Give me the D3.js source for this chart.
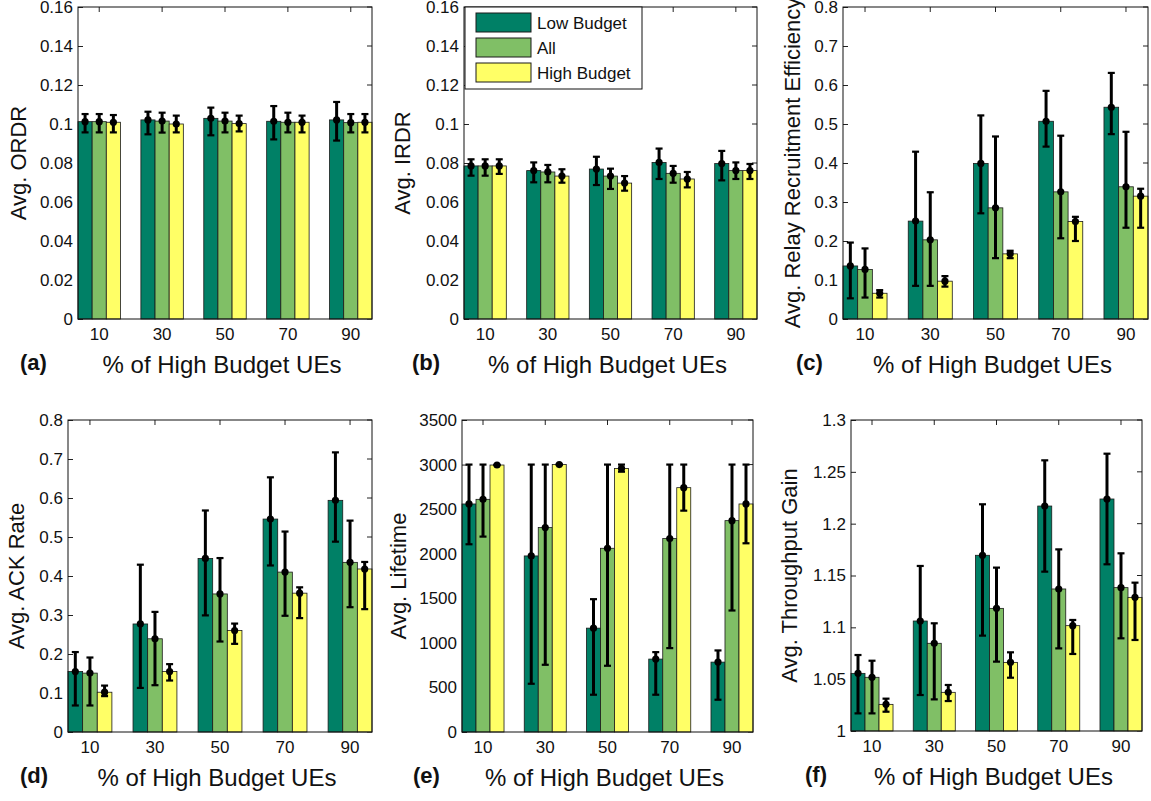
<!DOCTYPE html>
<html lang="en">
<head>
<meta charset="utf-8">
<title>Budget UEs bars</title>
<script src="https://cdn.jsdelivr.net/npm/d3@7"></script>
<style>
body { margin: 0; background: #fff; }
svg text { font-family: "Liberation Sans", Arial, Helvetica, sans-serif; fill: #111; }
.domain { stroke: none; }
</style>
</head>
<body>
<svg id="fig" width="1151" height="801"></svg>
<script>
// categories and series
var groups = ["10", "30", "50", "70", "90"];
var seriesNames = ["Low Budget", "All", "High Budget"];
var seriesColors = ["#008066", "#80bf66", "#ffff66"];

// (a) ORDR : [low, all, high]
var ordrMean = [[0.1012, 0.1021, 0.1029, 0.1014, 0.1021], [0.1012, 0.1015, 0.1015, 0.1009, 0.1007], [0.1009, 0.1000, 0.1002, 0.1009, 0.1009]];
var ordrLo = [[0.0957, 0.0947, 0.0942, 0.0921, 0.0915], [0.0957, 0.0956, 0.0957, 0.0957, 0.0957], [0.0957, 0.0957, 0.0962, 0.0957, 0.0957]];
var ordrHi = [[0.1051, 0.1063, 0.1084, 0.1092, 0.1113], [0.1051, 0.1058, 0.1058, 0.1058, 0.1051], [0.1046, 0.1043, 0.1043, 0.1043, 0.1051]];
var ordrTicks = [0, 0.02, 0.04, 0.06, 0.08, 0.1, 0.12, 0.14, 0.16];

// (b) IRDR
var irdrMean = [[0.0785, 0.0761, 0.0769, 0.0803, 0.0797], [0.0785, 0.0754, 0.0733, 0.0747, 0.0761], [0.0785, 0.0733, 0.0697, 0.0718, 0.0761]];
var irdrLo = [[0.0735, 0.0701, 0.0687, 0.0718, 0.0711], [0.0735, 0.0701, 0.0667, 0.0699, 0.0718], [0.0744, 0.0699, 0.0658, 0.0675, 0.0718]];
var irdrHi = [[0.0819, 0.0803, 0.0832, 0.0874, 0.0862], [0.0819, 0.0790, 0.0771, 0.0785, 0.0803], [0.0819, 0.0768, 0.0733, 0.0754, 0.0795]];
var irdrTicks = [0, 0.02, 0.04, 0.06, 0.08, 0.1, 0.12, 0.14, 0.16];

// (c) relay recruitment efficiency
var rreMean = [[0.136, 0.251, 0.399, 0.507, 0.543], [0.127, 0.203, 0.285, 0.326, 0.339], [0.066, 0.097, 0.167, 0.250, 0.315]];
var rreLo = [[0.053, 0.085, 0.271, 0.442, 0.474], [0.055, 0.085, 0.156, 0.207, 0.234], [0.055, 0.083, 0.156, 0.200, 0.234]];
var rreHi = [[0.196, 0.429, 0.522, 0.585, 0.631], [0.181, 0.325, 0.468, 0.470, 0.480], [0.074, 0.110, 0.175, 0.262, 0.334]];
var rreTicks = [0, 0.1, 0.2, 0.3, 0.4, 0.5, 0.6, 0.7, 0.8];

// (d) ACK rate
var ackMean = [[0.155, 0.277, 0.445, 0.546, 0.594], [0.151, 0.239, 0.354, 0.410, 0.435], [0.102, 0.155, 0.260, 0.356, 0.418]];
var ackLo = [[0.068, 0.113, 0.299, 0.427, 0.488], [0.068, 0.120, 0.232, 0.298, 0.320], [0.092, 0.132, 0.226, 0.292, 0.315]];
var ackHi = [[0.205, 0.429, 0.568, 0.653, 0.717], [0.191, 0.308, 0.446, 0.514, 0.542], [0.119, 0.174, 0.278, 0.371, 0.436]];
var ackTicks = [0, 0.1, 0.2, 0.3, 0.4, 0.5, 0.6, 0.7, 0.8];

// (e) lifetime
var lifeMean = [[2558, 1975, 1165, 818, 784], [2610, 2293, 2061, 2170, 2371], [2995, 3000, 2957, 2741, 2558]];
var lifeLo = [[2106, 541, 418, 418, 362], [2192, 754, 743, 941, 1363], [2995, 3000, 2920, 2483, 2117]];
var lifeHi = [[3000, 3000, 1490, 896, 915], [3000, 3000, 3000, 3000, 3000], [2995, 3000, 3000, 3000, 3000]];
var lifeTicks = [0, 500, 1000, 1500, 2000, 2500, 3000, 3500];

// (f) throughput gain
var tputMean = [[1.0556, 1.1061, 1.1695, 1.2170, 1.2238], [1.0518, 1.0846, 1.1183, 1.1370, 1.1383], [1.0257, 1.0373, 1.0662, 1.1016, 1.1289]];
var tputLo = [[1.0170, 1.0347, 1.0920, 1.1537, 1.1608], [1.0170, 1.0305, 1.0669, 1.0797, 1.0894], [1.0186, 1.0289, 1.0514, 1.0743, 1.0878]];
var tputHi = [[1.0733, 1.1592, 1.2187, 1.2611, 1.2675], [1.0678, 1.1039, 1.1576, 1.1752, 1.1714], [1.0312, 1.0444, 1.0759, 1.1071, 1.1431]];
var tputTicks = [1, 1.05, 1.1, 1.15, 1.2, 1.25, 1.3];

var xLabel = "% of High Budget UEs";

var panels = [
  { tag: "(a)", ylabel: "Avg. ORDR", mean: ordrMean, lo: ordrLo, hi: ordrHi, ticks: ordrTicks, box: [78, 7, 372, 319], ylabX: 26, tagX: 20 },
  { tag: "(b)", ylabel: "Avg. IRDR", mean: irdrMean, lo: irdrLo, hi: irdrHi, ticks: irdrTicks, box: [464, 7, 757, 319], ylabX: 410, tagX: 412, legend: true },
  { tag: "(c)", ylabel: "Avg. Relay Recruitment Efficiency", mean: rreMean, lo: rreLo, hi: rreHi, ticks: rreTicks, box: [843, 7, 1148, 319], ylabX: 800, tagX: 796 },
  { tag: "(d)", ylabel: "Avg. ACK Rate", mean: ackMean, lo: ackLo, hi: ackHi, ticks: ackTicks, box: [68, 420, 372, 732], ylabX: 24, tagX: 20 },
  { tag: "(e)", ylabel: "Avg. Lifetime", mean: lifeMean, lo: lifeLo, hi: lifeHi, ticks: lifeTicks, box: [462, 420, 753, 732], ylabX: 406, tagX: 413 },
  { tag: "(f)", ylabel: "Avg. Throughput Gain", mean: tputMean, lo: tputLo, hi: tputHi, ticks: tputTicks, box: [851, 420, 1142, 731], ylabX: 797, tagX: 805 }
];

var svg = d3.select("#fig");

panels.forEach(function(p) {
  var x0 = p.box[0], y0 = p.box[1], x1 = p.box[2], y1 = p.box[3];
  var yDom = [p.ticks[0], p.ticks[p.ticks.length - 1]];

  var x = d3.scaleBand().domain(groups).range([x0, x1]).paddingInner(0.325).paddingOuter(0);
  var xs = d3.scaleBand().domain(d3.range(seriesNames.length)).range([0, x.bandwidth()]);
  var y = d3.scaleLinear().domain(yDom).range([y1, y0]);

  var g = svg.append("g");

  // y axis, ticks pointing inward
  var ya = g.append("g").attr("transform", "translate(" + x0 + ",0)")
    .call(d3.axisLeft(y).tickValues(p.ticks).tickSize(-5).tickPadding(5).tickFormat(function(d) { return String(d); }));
  ya.selectAll("text").style("font-size", "17px");
  ya.selectAll("line").attr("stroke", "#222");

  // right ticks
  g.selectAll(".rt").data(p.ticks).enter().append("line")
    .attr("x1", x1).attr("x2", x1 - 5)
    .attr("y1", function(d) { return y(d); }).attr("y2", function(d) { return y(d); })
    .attr("stroke", "#222");
  // top ticks
  g.selectAll(".tt").data(groups).enter().append("line")
    .attr("x1", function(d) { return x(d) + x.bandwidth() / 2; })
    .attr("x2", function(d) { return x(d) + x.bandwidth() / 2; })
    .attr("y1", y0).attr("y2", y0 + 5)
    .attr("stroke", "#222");

  // x axis labels
  var xa = g.append("g").attr("transform", "translate(0," + y1 + ")")
    .call(d3.axisBottom(x).tickSize(0).tickPadding(9));
  xa.selectAll("text").style("font-size", "17px");

  // bars
  p.mean.forEach(function(vals, s) {
    g.selectAll(".bar" + s).data(vals).enter().append("rect")
      .attr("x", function(d, i) { return x(groups[i]) + xs(s); })
      .attr("width", xs.bandwidth())
      .attr("y", function(d) { return y(d); })
      .attr("height", function(d) { return y(yDom[0]) - y(d); })
      .attr("fill", seriesColors[s])
      .attr("stroke", "#1a1a1a")
      .attr("stroke-width", 0.8);
  });

  // box
  g.append("rect").attr("x", x0).attr("y", y0).attr("width", x1 - x0).attr("height", y1 - y0)
    .attr("fill", "none").attr("stroke", "#111").attr("stroke-width", 1);

  // error bars
  p.mean.forEach(function(vals, s) {
    var cx = function(i) { return x(groups[i]) + xs(s) + xs.bandwidth() / 2; };
    var eg = g.append("g");
    vals.forEach(function(m, i) {
      var lo = p.lo[s][i], hi = p.hi[s][i];
      eg.append("line").attr("x1", cx(i)).attr("x2", cx(i)).attr("y1", y(lo)).attr("y2", y(hi))
        .attr("stroke", "#000").attr("stroke-width", 3);
      [lo, hi].forEach(function(v) {
        eg.append("line").attr("x1", cx(i) - 3.5).attr("x2", cx(i) + 3.5).attr("y1", y(v)).attr("y2", y(v))
          .attr("stroke", "#000").attr("stroke-width", 2.2);
      });
      eg.append("circle").attr("cx", cx(i)).attr("cy", y(m)).attr("r", 3.6).attr("fill", "#000");
    });
  });

  // labels
  g.append("text")
    .attr("transform", "translate(" + p.ylabX + "," + ((y0 + y1) / 2) + ") rotate(-90)")
    .attr("text-anchor", "middle").style("font-size", "22px").text(p.ylabel);
  g.append("text").attr("x", (x0 + x1) / 2 - 3).attr("y", y1 + 54)
    .attr("text-anchor", "middle").style("font-size", "24px").text(xLabel);
  g.append("text").attr("x", p.tagX).attr("y", y1 + 51)
    .style("font-size", "22px").style("font-weight", "bold").text(p.tag);

  if (p.legend) {
    var lg = g.append("g");
    lg.append("rect").attr("x", 465).attr("y", 7).attr("width", 177).attr("height", 82)
      .attr("fill", "#fff").attr("stroke", "#111");
    seriesNames.forEach(function(name, s) {
      lg.append("rect").attr("x", 476).attr("y", 13 + s * 25).attr("width", 55).attr("height", 19)
        .attr("fill", seriesColors[s]).attr("stroke", "#1a1a1a");
      lg.append("text").attr("x", 537).attr("y", 29 + s * 25).style("font-size", "17px").text(name);
    });
  }
});
</script>
</body>
</html>
